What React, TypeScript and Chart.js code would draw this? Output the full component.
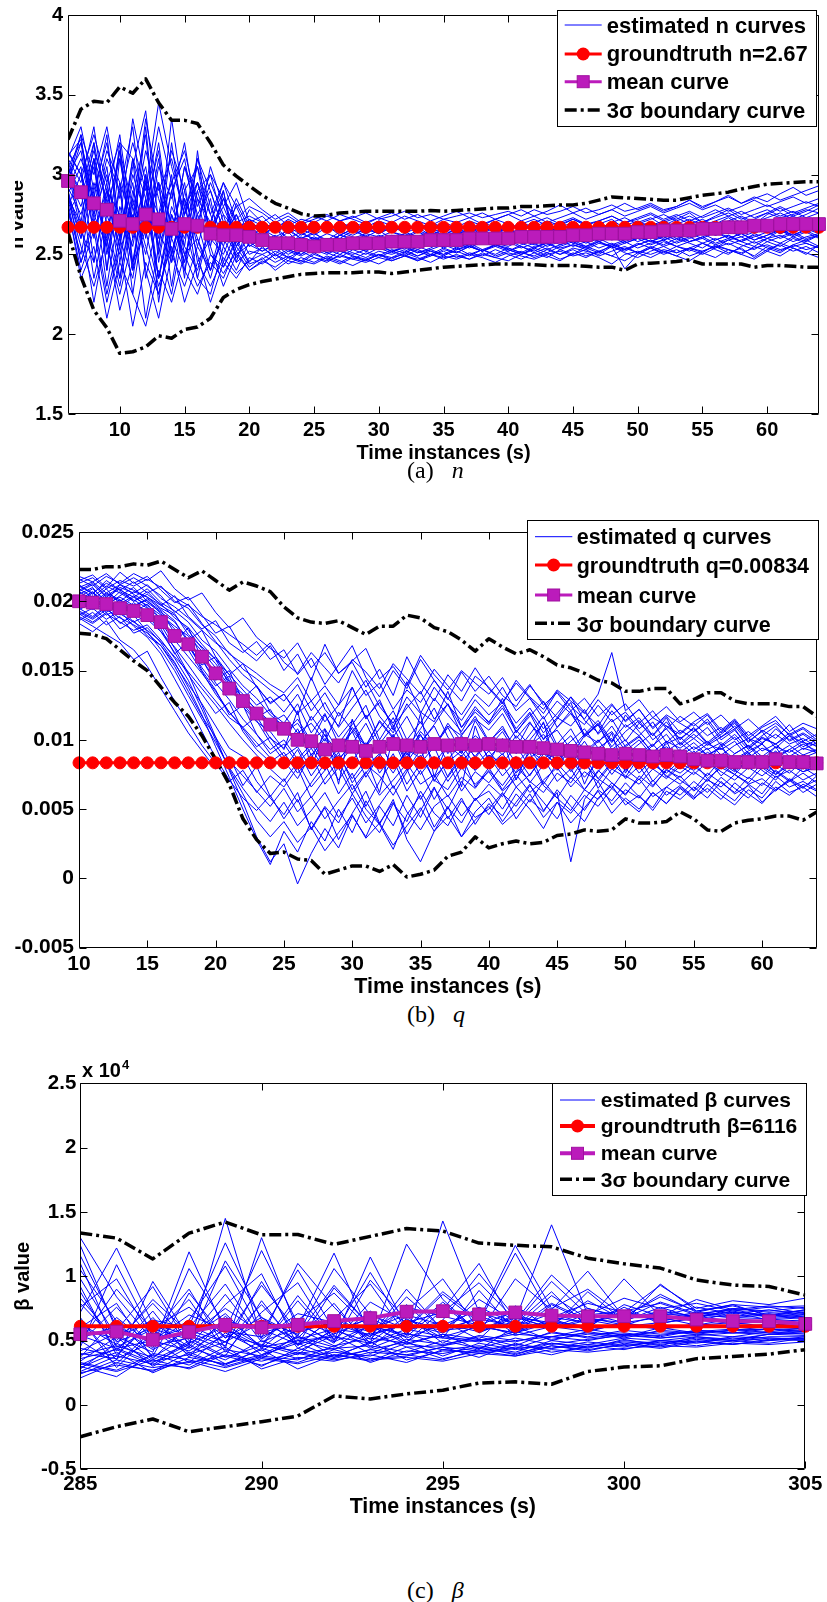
import React, { useEffect, useRef } from "react";
import { Chart, registerables } from "chart.js";

Chart.register(...registerables);

const FONT = "'Liberation Sans', Arial, Helvetica, sans-serif";
const SERIF = "'Liberation Serif', 'Times New Roman', serif";
const BLUE = "#0000ff";
const RED = "#ff0000";
const MAG = "#bb1bbb";
const MAG_EDGE = "#a010a0";
const BLACK = "#000000";
const DASH_DOT = [12, 4, 3, 4];

// ================= Panel (a): n =================
const timeA = [6,7,8,9,10,11,12,13,14,15,16,17,18,19,20,21,22,23,24,25,26,27,28,29,30,31,32,33,34,35,36,37,38,39,40,41,42,43,44,45,46,47,48,49,50,51,52,53,54,55,56,57,58,59,60,61,62,63,64];
const xTicksA = [10,15,20,25,30,35,40,45,50,55,60];
const xTickLabelsA = ["10","15","20","25","30","35","40","45","50","55","60"];
const yTicksA = [1.5,2,2.5,3,3.5,4];
const yTickLabelsA = ["1.5","2","2.5","3","3.5","4"];
const groundA = [
  2.67,2.67,2.67,2.67,2.67,2.67,2.67,2.67,2.67,2.67,
  2.67,2.67,2.67,2.67,2.67,2.67,2.67,2.67,2.67,2.67,
  2.67,2.67,2.67,2.67,2.67,2.67,2.67,2.67,2.67,2.67,
  2.67,2.67,2.67,2.67,2.67,2.67,2.67,2.67,2.67,2.67,
  2.67,2.67,2.67,2.67,2.67,2.67,2.67,2.67,2.67,2.67,
  2.67,2.67,2.67,2.67,2.67,2.67,2.67,2.67,2.67];
const meanA = [
  2.96,2.89,2.82,2.78,2.71,2.69,2.75,2.72,2.66,2.69,
  2.68,2.63,2.62,2.62,2.61,2.59,2.57,2.57,2.56,2.55,
  2.56,2.56,2.57,2.57,2.57,2.58,2.58,2.58,2.59,2.59,
  2.59,2.60,2.60,2.60,2.60,2.61,2.61,2.61,2.61,2.62,
  2.62,2.63,2.63,2.63,2.64,2.64,2.65,2.65,2.65,2.66,
  2.66,2.67,2.67,2.68,2.68,2.69,2.69,2.69,2.69];
const upperA = [
  3.22,3.41,3.46,3.45,3.55,3.51,3.60,3.45,3.34,3.34,
  3.32,3.20,3.06,2.99,2.93,2.87,2.82,2.79,2.755,2.74,
  2.745,2.76,2.765,2.77,2.77,2.77,2.77,2.77,2.775,2.77,
  2.775,2.78,2.785,2.79,2.79,2.80,2.80,2.805,2.81,2.81,
  2.82,2.84,2.86,2.855,2.85,2.845,2.84,2.84,2.855,2.87,
  2.88,2.89,2.91,2.925,2.94,2.945,2.95,2.955,2.955];
const lowerA = [
  2.64,2.36,2.15,2.04,1.88,1.89,1.92,1.99,1.975,2.03,
  2.045,2.10,2.23,2.28,2.31,2.33,2.345,2.36,2.375,2.38,
  2.385,2.385,2.385,2.39,2.39,2.38,2.39,2.40,2.41,2.42,
  2.425,2.43,2.435,2.44,2.44,2.44,2.435,2.43,2.43,2.43,
  2.425,2.42,2.42,2.40,2.44,2.445,2.45,2.455,2.465,2.44,
  2.44,2.44,2.44,2.42,2.43,2.43,2.425,2.42,2.42];
const curveA01 = [3.05,3.20,2.85,3.25,2.60,3.05,3.40,2.70,2.95,2.55,3.10,2.80,2.60,2.75,2.55,
  2.60,2.50,2.58,2.52,2.55,2.60,2.57,2.54,2.58,2.56,2.60,2.57,2.59,2.56,2.58,
  2.60,2.58,2.61,2.59,2.62,2.60,2.58,2.61,2.63,2.60,2.62,2.64,2.61,2.63,2.65,
  2.62,2.64,2.66,2.63,2.65,2.67,2.64,2.66,2.68,2.65,2.67,2.69,2.66,2.68];
const curveA02 = [2.90,2.60,3.10,2.40,2.95,2.25,2.80,3.15,2.50,2.85,2.35,2.70,2.90,2.55,2.70,
  2.62,2.68,2.55,2.63,2.60,2.58,2.62,2.60,2.63,2.61,2.64,2.62,2.60,2.63,2.61,
  2.63,2.65,2.62,2.64,2.66,2.63,2.65,2.67,2.64,2.66,2.68,2.65,2.63,2.66,2.68,
  2.70,2.67,2.69,2.72,2.68,2.71,2.74,2.70,2.72,2.76,2.73,2.75,2.78,2.76];
const curveA03 = [3.10,2.95,3.30,2.75,3.15,2.45,2.95,2.60,3.35,2.80,2.95,2.65,2.85,2.60,2.78,
  2.70,2.75,2.68,2.72,2.70,2.74,2.71,2.73,2.76,2.72,2.74,2.77,2.73,2.75,2.72,
  2.74,2.76,2.73,2.75,2.77,2.74,2.78,2.75,2.77,2.80,2.76,2.78,2.81,2.77,2.79,
  2.82,2.78,2.80,2.84,2.80,2.83,2.86,2.82,2.85,2.88,2.84,2.87,2.90,2.93];
const curveA04 = [2.80,2.35,2.55,2.10,2.45,2.25,2.05,2.40,2.20,2.50,2.30,2.45,2.35,2.55,2.42,
  2.48,2.40,2.46,2.44,2.48,2.46,2.49,2.47,2.45,2.48,2.46,2.49,2.47,2.50,2.48,
  2.49,2.47,2.50,2.48,2.51,2.49,2.47,2.50,2.52,2.49,2.51,2.48,2.44,2.50,2.52,
  2.50,2.53,2.51,2.54,2.52,2.55,2.53,2.51,2.54,2.56,2.53,2.55,2.57,2.54];
const curveA05 = [2.95,3.25,3.00,3.30,2.85,3.20,2.90,3.45,3.05,2.75,3.10,2.90,2.65,2.80,2.62,
  2.66,2.58,2.64,2.56,2.60,2.57,2.62,2.59,2.56,2.60,2.58,2.61,2.58,2.62,2.60,
  2.58,2.61,2.63,2.60,2.62,2.64,2.61,2.63,2.60,2.62,2.65,2.62,2.64,2.61,2.63,
  2.65,2.62,2.64,2.67,2.63,2.66,2.69,2.65,2.68,2.64,2.67,2.70,2.66,2.68];
const curveA06 = [2.85,2.70,2.20,2.65,2.30,2.75,2.10,2.55,2.25,2.70,2.35,2.25,2.55,2.40,2.58,
  2.52,2.56,2.50,2.54,2.51,2.55,2.52,2.50,2.53,2.55,2.52,2.54,2.51,2.53,2.56,
  2.53,2.55,2.52,2.56,2.54,2.51,2.55,2.57,2.54,2.56,2.53,2.57,2.55,2.58,2.54,
  2.57,2.59,2.55,2.58,2.60,2.56,2.59,2.61,2.57,2.60,2.62,2.58,2.61,2.63];
const curveA07 = [3.15,3.00,2.75,3.10,2.90,3.30,2.60,3.05,2.85,3.20,2.70,2.95,2.75,2.65,2.72,
  2.68,2.64,2.70,2.66,2.62,2.67,2.64,2.69,2.66,2.63,2.67,2.65,2.68,2.64,2.66,
  2.69,2.66,2.70,2.67,2.65,2.69,2.72,2.68,2.70,2.73,2.69,2.71,2.74,2.70,2.72,
  2.75,2.71,2.74,2.77,2.73,2.76,2.79,2.75,2.78,2.81,2.77,2.80,2.83,2.80];
const curveA08 = [2.78,2.50,2.90,2.30,2.80,2.55,3.00,2.20,2.75,2.45,2.85,2.50,2.42,2.60,2.45,
  2.55,2.47,2.52,2.49,2.53,2.50,2.54,2.51,2.48,2.52,2.50,2.53,2.49,2.52,2.50,
  2.52,2.49,2.53,2.50,2.54,2.51,2.49,2.53,2.50,2.54,2.52,2.50,2.55,2.41,2.50,
  2.54,2.51,2.55,2.53,2.50,2.54,2.57,2.53,2.49,2.55,2.52,2.56,2.53,2.55];
const curveA09 = [3.00,3.25,2.60,2.95,2.35,2.85,3.25,2.45,2.90,3.10,2.65,3.05,2.80,2.95,2.70,
  2.74,2.66,2.71,2.64,2.69,2.65,2.70,2.67,2.64,2.68,2.65,2.69,2.66,2.70,2.67,
  2.64,2.68,2.65,2.69,2.66,2.70,2.67,2.71,2.68,2.72,2.69,2.66,2.70,2.73,2.69,
  2.72,2.75,2.71,2.74,2.70,2.73,2.76,2.72,2.75,2.78,2.74,2.77,2.73,2.76];
const curveA10 = [2.92,2.75,3.05,2.55,3.20,2.40,2.70,2.95,2.30,2.80,2.50,2.20,2.45,2.35,2.48,
  2.44,2.50,2.46,2.52,2.48,2.45,2.50,2.47,2.51,2.48,2.52,2.49,2.53,2.50,2.54,
  2.51,2.55,2.52,2.56,2.53,2.50,2.54,2.57,2.53,2.56,2.54,2.58,2.55,2.52,2.56,
  2.59,2.55,2.58,2.61,2.57,2.60,2.56,2.59,2.62,2.58,2.61,2.64,2.60,2.62];
const curveA11 = [3.08,2.85,3.15,2.90,2.55,3.00,2.75,3.20,2.60,3.05,2.85,2.70,2.95,2.80,2.85,
  2.78,2.72,2.76,2.70,2.74,2.71,2.75,2.72,2.69,2.73,2.70,2.74,2.71,2.68,2.72,
  2.70,2.73,2.69,2.72,2.75,2.71,2.74,2.70,2.73,2.76,2.72,2.75,2.78,2.74,2.77,
  2.80,2.76,2.79,2.82,2.78,2.81,2.77,2.80,2.84,2.80,2.83,2.86,2.82,2.85];
const curveA12 = [2.82,2.45,2.70,2.25,2.60,2.95,2.40,2.10,2.50,2.30,2.55,2.40,2.60,2.45,2.52,
  2.50,2.54,2.48,2.52,2.56,2.53,2.50,2.55,2.52,2.49,2.53,2.51,2.55,2.52,2.49,
  2.53,2.56,2.52,2.55,2.58,2.54,2.57,2.53,2.56,2.59,2.55,2.58,2.54,2.57,2.60,
  2.56,2.59,2.62,2.58,2.61,2.57,2.60,2.63,2.59,2.62,2.65,2.61,2.64,2.60];
const curveA13 = [3.12,3.22,2.80,3.15,2.95,2.70,3.35,2.90,3.10,2.75,3.05,2.60,2.85,2.70,2.62,
  2.58,2.62,2.56,2.60,2.54,2.58,2.55,2.59,2.57,2.54,2.58,2.56,2.60,2.57,2.55,
  2.59,2.56,2.60,2.57,2.55,2.59,2.62,2.58,2.61,2.57,2.60,2.63,2.59,2.62,2.58,
  2.61,2.64,2.60,2.63,2.66,2.62,2.65,2.61,2.64,2.67,2.63,2.66,2.70,2.67];
const curveA14 = [2.88,3.05,2.45,2.90,2.60,2.35,2.85,2.55,3.00,2.40,2.75,2.55,2.30,2.50,2.40,
  2.46,2.42,2.48,2.45,2.50,2.47,2.44,2.48,2.46,2.50,2.47,2.51,2.48,2.45,2.49,
  2.47,2.50,2.48,2.45,2.49,2.52,2.48,2.51,2.47,2.50,2.53,2.49,2.52,2.55,2.51,
  2.54,2.50,2.53,2.49,2.52,2.55,2.51,2.54,2.48,2.53,2.56,2.52,2.55,2.51];
const curveA15 = [3.02,2.65,3.10,2.85,3.25,2.65,2.95,2.35,2.80,2.60,2.90,3.00,2.70,2.55,2.65,
  2.70,2.64,2.68,2.62,2.66,2.69,2.65,2.62,2.66,2.63,2.67,2.64,2.61,2.65,2.62,
  2.66,2.63,2.67,2.64,2.61,2.65,2.68,2.64,2.67,2.63,2.66,2.69,2.65,2.68,2.71,
  2.67,2.70,2.73,2.69,2.72,2.68,2.71,2.74,2.70,2.73,2.76,2.72,2.75,2.79];
const curveA16 = [2.76,2.90,2.35,2.75,2.50,2.85,2.55,2.25,2.65,2.95,2.45,2.60,2.50,2.70,2.55,
  2.60,2.55,2.59,2.53,2.57,2.54,2.58,2.55,2.52,2.56,2.54,2.57,2.55,2.58,2.54,
  2.57,2.54,2.58,2.55,2.52,2.56,2.59,2.55,2.58,2.61,2.57,2.60,2.56,2.59,2.62,
  2.58,2.61,2.57,2.60,2.63,2.59,2.62,2.58,2.61,2.64,2.60,2.63,2.59,2.62];
const curveA17 = [3.00,3.15,2.70,3.05,2.45,2.90,2.65,3.10,2.50,2.85,2.60,2.40,2.70,2.52,2.60,
  2.56,2.61,2.54,2.58,2.52,2.56,2.59,2.55,2.58,2.54,2.57,2.60,2.56,2.59,2.57,
  2.60,2.57,2.61,2.58,2.62,2.59,2.56,2.60,2.63,2.59,2.62,2.58,2.61,2.64,2.60,
  2.63,2.60,2.64,2.61,2.66,2.62,2.65,2.68,2.64,2.67,2.63,2.66,2.69,2.65];
const curveA18 = [2.92,3.10,2.85,2.60,3.15,2.80,3.05,2.55,3.20,2.65,2.95,2.75,2.55,2.82,2.66,
  2.62,2.67,2.60,2.64,2.59,2.63,2.60,2.65,2.61,2.58,2.62,2.60,2.64,2.61,2.63,
  2.61,2.64,2.60,2.63,2.66,2.62,2.65,2.61,2.64,2.67,2.63,2.66,2.62,2.65,2.68,
  2.64,2.67,2.70,2.66,2.69,2.65,2.68,2.71,2.67,2.70,2.73,2.69,2.72,2.70];
const curveA19 = [2.84,2.55,2.30,2.60,2.15,2.45,2.65,2.30,2.55,2.20,2.45,2.30,2.48,2.38,2.46,
  2.50,2.45,2.49,2.46,2.44,2.48,2.45,2.49,2.47,2.44,2.48,2.50,2.46,2.49,2.52,
  2.48,2.51,2.49,2.53,2.50,2.47,2.51,2.54,2.50,2.53,2.49,2.52,2.55,2.51,2.48,
  2.52,2.55,2.51,2.54,2.57,2.53,2.50,2.55,2.58,2.54,2.51,2.56,2.59,2.55];
const curveA20 = [3.14,3.00,3.25,2.95,3.20,3.10,2.85,3.30,2.95,3.15,2.80,3.00,2.85,2.72,2.80,
  2.76,2.70,2.74,2.69,2.72,2.75,2.71,2.74,2.70,2.73,2.76,2.72,2.75,2.71,2.74,
  2.77,2.73,2.76,2.72,2.75,2.78,2.74,2.77,2.81,2.76,2.79,2.75,2.78,2.82,2.78,
  2.81,2.77,2.80,2.84,2.79,2.83,2.87,2.82,2.86,2.83,2.88,2.92,2.87,2.90];
const curveA21 = [2.86,2.60,2.95,2.70,2.35,2.80,2.50,2.95,2.70,2.45,2.90,2.60,2.75,2.48,2.62,
  2.58,2.53,2.57,2.61,2.56,2.53,2.57,2.54,2.58,2.55,2.59,2.56,2.53,2.57,2.55,
  2.58,2.55,2.59,2.56,2.60,2.57,2.54,2.58,2.61,2.57,2.55,2.59,2.62,2.58,2.61,
  2.58,2.62,2.59,2.63,2.60,2.64,2.61,2.58,2.63,2.60,2.65,2.62,2.66,2.63];
const curveA22 = [2.98,2.80,3.10,2.50,2.90,2.40,3.00,2.65,2.45,2.90,2.55,2.85,2.45,2.65,2.50,
  2.54,2.49,2.53,2.50,2.55,2.51,2.48,2.53,2.50,2.54,2.51,2.55,2.52,2.49,2.53,
  2.51,2.55,2.52,2.56,2.53,2.50,2.54,2.51,2.55,2.58,2.54,2.51,2.56,2.53,2.57,
  2.54,2.58,2.55,2.52,2.57,2.54,2.59,2.56,2.53,2.58,2.55,2.60,2.57,2.54];
const curveA23 = [3.06,2.70,3.20,2.40,3.10,2.60,3.30,2.50,2.90,2.35,3.15,2.55,2.90,2.45,2.72,
  2.64,2.58,2.66,2.60,2.64,2.57,2.62,2.66,2.61,2.65,2.60,2.63,2.67,2.62,2.65,
  2.62,2.66,2.63,2.67,2.64,2.61,2.65,2.68,2.64,2.67,2.63,2.69,2.72,2.66,2.70,
  2.73,2.68,2.72,2.76,2.70,2.74,2.78,2.73,2.69,2.75,2.79,2.74,2.77,2.81];
const curveA24 = [2.80,3.00,2.65,2.90,2.75,2.45,2.85,2.35,2.75,2.55,2.40,2.70,2.42,2.58,2.44,
  2.47,2.52,2.48,2.46,2.51,2.47,2.52,2.49,2.46,2.50,2.48,2.52,2.49,2.53,2.50,
  2.54,2.50,2.53,2.49,2.52,2.55,2.51,2.48,2.53,2.50,2.55,2.52,2.49,2.54,2.51,
  2.55,2.52,2.49,2.54,2.51,2.56,2.53,2.50,2.55,2.52,2.57,2.54,2.50,2.56];
const curveA25 = [3.10,3.30,2.90,3.20,2.70,3.35,2.95,2.75,3.15,2.90,3.05,2.75,2.95,2.70,2.74,
  2.70,2.66,2.72,2.68,2.65,2.69,2.66,2.70,2.67,2.71,2.68,2.65,2.69,2.66,2.70,
  2.67,2.71,2.68,2.72,2.69,2.66,2.70,2.73,2.69,2.72,2.68,2.71,2.74,2.70,2.73,
  2.76,2.72,2.75,2.71,2.74,2.78,2.74,2.77,2.73,2.76,2.80,2.76,2.79,2.82];
const curveA26 = [2.90,2.45,2.75,2.55,2.25,2.60,2.80,2.35,2.70,2.50,2.60,2.35,2.65,2.50,2.56,
  2.52,2.57,2.53,2.50,2.55,2.51,2.54,2.58,2.53,2.56,2.52,2.55,2.51,2.54,2.58,
  2.54,2.57,2.53,2.56,2.59,2.55,2.52,2.56,2.59,2.55,2.58,2.54,2.57,2.53,2.56,
  2.59,2.56,2.60,2.57,2.54,2.59,2.62,2.58,2.55,2.60,2.57,2.61,2.58,2.62];
const curveA27 = [3.04,2.90,3.20,2.80,3.10,2.70,3.15,2.85,2.60,3.05,2.75,2.90,2.65,2.85,2.68,
  2.65,2.70,2.63,2.67,2.64,2.68,2.62,2.66,2.63,2.67,2.64,2.61,2.65,2.62,2.66,
  2.63,2.67,2.64,2.68,2.65,2.62,2.66,2.63,2.67,2.70,2.66,2.69,2.65,2.68,2.64,
  2.68,2.71,2.67,2.70,2.66,2.69,2.73,2.68,2.71,2.67,2.71,2.74,2.70,2.73];
const curveA28 = [2.78,2.40,2.65,2.20,2.55,2.05,2.45,2.25,2.60,2.40,2.25,2.50,2.38,2.52,2.40,
  2.45,2.50,2.44,2.48,2.45,2.49,2.46,2.43,2.47,2.50,2.46,2.49,2.46,2.50,2.47,
  2.50,2.47,2.51,2.48,2.46,2.50,2.53,2.49,2.46,2.51,2.48,2.52,2.49,2.46,2.51,
  2.48,2.52,2.49,2.46,2.51,2.48,2.53,2.50,2.47,2.52,2.49,2.54,2.51,2.48];
const curveA29 = [2.94,3.20,2.75,3.00,2.60,3.10,2.70,2.95,2.45,2.75,2.95,2.65,2.80,2.60,2.70,
  2.66,2.61,2.65,2.60,2.63,2.59,2.64,2.61,2.58,2.62,2.59,2.63,2.60,2.64,2.61,
  2.64,2.61,2.65,2.62,2.59,2.63,2.60,2.64,2.61,2.65,2.62,2.66,2.63,2.60,2.64,
  2.67,2.63,2.66,2.70,2.65,2.68,2.64,2.67,2.71,2.66,2.69,2.72,2.68,2.71];
const curveA30 = [2.88,2.65,2.45,2.85,2.55,3.10,2.35,2.75,2.95,2.50,2.70,2.40,2.62,2.75,2.58,
  2.62,2.56,2.60,2.57,2.61,2.58,2.55,2.59,2.62,2.57,2.60,2.57,2.61,2.58,2.55,
  2.59,2.56,2.60,2.63,2.58,2.61,2.57,2.60,2.56,2.59,2.62,2.58,2.61,2.57,2.60,
  2.63,2.59,2.62,2.58,2.61,2.64,2.60,2.63,2.59,2.62,2.66,2.62,2.65,2.61];
const curvesA = [curveA01,curveA02,curveA03,curveA04,curveA05,curveA06,curveA07,curveA08,
  curveA09,curveA10,curveA11,curveA12,curveA13,curveA14,curveA15,curveA16,curveA17,curveA18,
  curveA19,curveA20,curveA21,curveA22,curveA23,curveA24,curveA25,curveA26,curveA27,curveA28,
  curveA29,curveA30];

// ================= Panel (b): q =================
const timeB = [10,11,12,13,14,15,16,17,18,19,20,21,22,23,24,25,26,27,28,29,30,31,32,33,34,35,36,37,38,39,40,41,42,43,44,45,46,47,48,49,50,51,52,53,54,55,56,57,58,59,60,61,62,63,64];
const xTicksB = [10,15,20,25,30,35,40,45,50,55,60];
const xTickLabelsB = ["10","15","20","25","30","35","40","45","50","55","60"];
const yTicksB = [-0.005,0,0.005,0.01,0.015,0.02,0.025];
const yTickLabelsB = ["-0.005","0","0.005","0.01","0.015","0.02","0.025"];
const groundB = [
  0.00834,0.00834,0.00834,0.00834,0.00834,0.00834,0.00834,0.00834,0.00834,0.00834,
  0.00834,0.00834,0.00834,0.00834,0.00834,0.00834,0.00834,0.00834,0.00834,0.00834,
  0.00834,0.00834,0.00834,0.00834,0.00834,0.00834,0.00834,0.00834,0.00834,0.00834,
  0.00834,0.00834,0.00834,0.00834,0.00834,0.00834,0.00834,0.00834,0.00834,0.00834,
  0.00834,0.00834,0.00834,0.00834,0.00834,0.00834,0.00834,0.00834,0.00834,0.00834,
  0.00834,0.00834,0.00834,0.00834,0.00834];
const meanB = [
  0.0200,0.0199,0.0198,0.0195,0.0193,0.0190,0.0185,0.0175,0.0169,0.0160,
  0.0148,0.0137,0.0128,0.0119,0.0111,0.0108,0.0100,0.0099,0.0093,0.0096,
  0.0095,0.0092,0.0095,0.0097,0.0096,0.0095,0.0097,0.0096,0.0097,0.0096,
  0.0097,0.0096,0.0095,0.0095,0.0094,0.0093,0.0092,0.0091,0.0090,0.0089,
  0.0090,0.0089,0.0088,0.0089,0.0088,0.0086,0.0085,0.0085,0.0084,0.0084,
  0.0084,0.0086,0.0084,0.0084,0.0083];
const upperB = [
  0.0223,0.0223,0.0225,0.0225,0.0227,0.0226,0.0229,0.0223,0.0217,0.0222,
  0.0215,0.0208,0.0214,0.0211,0.0207,0.0196,0.0188,0.0185,0.0184,0.0186,
  0.0181,0.0176,0.0182,0.0182,0.0190,0.0188,0.0181,0.0178,0.0172,0.0164,
  0.0173,0.0167,0.0162,0.0165,0.0160,0.0154,0.0152,0.0148,0.0143,0.0141,
  0.0135,0.0135,0.0137,0.0137,0.0126,0.0129,0.0134,0.0134,0.0128,0.0126,
  0.0126,0.0126,0.0124,0.0124,0.0117];
const lowerB = [
  0.0177,0.0176,0.0173,0.0165,0.0157,0.0150,0.0138,0.0127,0.0117,0.0103,
  0.0086,0.0068,0.0043,0.0028,0.0018,0.0019,0.0014,0.0013,0.0003,0.0006,
  0.0009,0.0009,0.0005,0.0010,0.0001,0.0003,0.0006,0.0016,0.0019,0.0030,
  0.0022,0.0025,0.0027,0.0025,0.0026,0.0031,0.0032,0.0035,0.0034,0.0035,
  0.0043,0.0040,0.0040,0.0041,0.0048,0.0043,0.0035,0.0034,0.0040,0.0042,
  0.0043,0.0045,0.0045,0.0042,0.0048];
const curveB01 = [0.0205,0.0210,0.0198,0.0207,0.0201,0.0195,0.0188,0.0172,0.0160,0.0148,0.0135,0.0120,0.0108,0.0095,0.0102,
  0.0088,0.0095,0.0079,0.0092,0.0085,0.0099,0.0081,0.0090,0.0076,0.0093,0.0087,0.0101,0.0084,0.0092,0.0078,
  0.0089,0.0083,0.0096,0.0080,0.0091,0.0086,0.0094,0.0079,0.0088,0.0082,0.0092,0.0085,0.0090,0.0080,0.0087,
  0.0083,0.0091,0.0086,0.0080,0.0089,0.0084,0.0092,0.0081,0.0088,0.0085];
const curveB02 = [0.0212,0.0205,0.0215,0.0208,0.0214,0.0206,0.0211,0.0200,0.0195,0.0183,0.0175,0.0162,0.0155,0.0148,0.0140,
  0.0134,0.0145,0.0128,0.0139,0.0125,0.0150,0.0132,0.0141,0.0122,0.0136,0.0127,0.0143,0.0130,0.0118,0.0133,
  0.0124,0.0138,0.0121,0.0130,0.0115,0.0128,0.0119,0.0111,0.0125,0.0113,0.0120,0.0108,0.0116,0.0110,0.0104,
  0.0112,0.0103,0.0109,0.0100,0.0106,0.0098,0.0104,0.0097,0.0101,0.0095];
const curveB03 = [0.0193,0.0188,0.0196,0.0184,0.0190,0.0178,0.0165,0.0150,0.0132,0.0115,0.0098,0.0080,0.0065,0.0052,0.0041,
  0.0055,0.0038,0.0049,0.0062,0.0044,0.0058,0.0040,0.0053,0.0067,0.0048,0.0035,0.0052,0.0060,0.0045,0.0057,
  0.0063,0.0050,0.0066,0.0055,0.0070,0.0058,0.0049,0.0064,0.0057,0.0069,0.0061,0.0072,0.0059,0.0066,0.0074,
  0.0063,0.0071,0.0066,0.0075,0.0068,0.0072,0.0064,0.0070,0.0076,0.0069];
const curveB04 = [0.0200,0.0196,0.0203,0.0190,0.0199,0.0192,0.0185,0.0170,0.0181,0.0158,0.0143,0.0150,0.0128,0.0116,0.0122,
  0.0105,0.0112,0.0098,0.0118,0.0102,0.0114,0.0095,0.0108,0.0121,0.0100,0.0113,0.0096,0.0110,0.0103,0.0117,
  0.0099,0.0108,0.0094,0.0112,0.0101,0.0107,0.0093,0.0104,0.0098,0.0110,0.0095,0.0102,0.0091,0.0099,0.0094,
  0.0101,0.0093,0.0098,0.0090,0.0096,0.0088,0.0095,0.0091,0.0097,0.0092];
const curveB05 = [0.0188,0.0182,0.0176,0.0170,0.0158,0.0164,0.0145,0.0128,0.0112,0.0096,0.0083,0.0070,0.0078,0.0062,0.0074,
  0.0066,0.0080,0.0058,0.0072,0.0085,0.0064,0.0077,0.0060,0.0071,0.0083,0.0068,0.0075,0.0059,0.0073,0.0065,
  0.0078,0.0067,0.0081,0.0070,0.0062,0.0076,0.0069,0.0083,0.0072,0.0065,0.0079,0.0071,0.0084,0.0074,0.0068,
  0.0077,0.0070,0.0082,0.0075,0.0069,0.0080,0.0073,0.0078,0.0071,0.0076];
const curveB06 = [0.0207,0.0201,0.0209,0.0198,0.0204,0.0196,0.0183,0.0166,0.0148,0.0125,0.0102,0.0078,0.0055,0.0030,0.0012,
  0.0025,-0.0004,0.0018,0.0036,0.0022,0.0045,0.0030,0.0052,0.0038,0.0060,0.0044,0.0065,0.0050,0.0070,0.0056,
  0.0068,0.0059,0.0075,0.0062,0.0071,0.0080,0.0066,0.0077,0.0070,0.0083,0.0074,0.0068,0.0079,0.0072,0.0081,
  0.0075,0.0084,0.0077,0.0071,0.0080,0.0074,0.0082,0.0076,0.0085,0.0079];
const curveB07 = [0.0215,0.0219,0.0210,0.0221,0.0213,0.0218,0.0208,0.0199,0.0203,0.0190,0.0177,0.0182,0.0165,0.0157,0.0168,
  0.0150,0.0162,0.0143,0.0169,0.0148,0.0156,0.0138,0.0151,0.0132,0.0160,0.0141,0.0128,0.0147,0.0135,0.0152,
  0.0137,0.0126,0.0143,0.0131,0.0122,0.0136,0.0128,0.0119,0.0133,0.0163,0.0121,0.0129,0.0116,0.0124,0.0113,
  0.0120,0.0111,0.0118,0.0108,0.0115,0.0106,0.0112,0.0104,0.0109,0.0102];
const curveB08 = [0.0197,0.0202,0.0193,0.0199,0.0189,0.0194,0.0180,0.0162,0.0171,0.0150,0.0136,0.0118,0.0125,0.0104,0.0090,
  0.0097,0.0083,0.0094,0.0078,0.0089,0.0072,0.0086,0.0098,0.0080,0.0091,0.0075,0.0088,0.0070,0.0084,0.0095,
  0.0081,0.0090,0.0076,0.0087,0.0094,0.0079,0.0086,0.0073,0.0084,0.0091,0.0078,0.0087,0.0082,0.0076,0.0085,
  0.0080,0.0088,0.0083,0.0077,0.0086,0.0081,0.0075,0.0084,0.0079,0.0082];
const curveB09 = [0.0203,0.0209,0.0200,0.0212,0.0205,0.0199,0.0192,0.0185,0.0172,0.0179,0.0160,0.0147,0.0155,0.0138,0.0127,
  0.0133,0.0118,0.0145,0.0122,0.0110,0.0138,0.0115,0.0129,0.0107,0.0142,0.0120,0.0113,0.0135,0.0109,0.0124,
  0.0112,0.0130,0.0105,0.0119,0.0100,0.0115,0.0127,0.0103,0.0112,0.0098,0.0118,0.0106,0.0095,0.0110,0.0101,
  0.0108,0.0097,0.0104,0.0112,0.0099,0.0106,0.0094,0.0103,0.0098,0.0096];
const curveB10 = [0.0191,0.0185,0.0192,0.0180,0.0186,0.0175,0.0168,0.0155,0.0140,0.0126,0.0110,0.0094,0.0088,0.0070,0.0058,
  0.0046,0.0062,0.0035,0.0051,0.0028,0.0047,0.0063,0.0040,0.0055,0.0032,0.0049,0.0066,0.0043,0.0058,0.0039,
  0.0054,0.0045,0.0061,0.0050,0.0036,0.0055,0.0047,0.0060,0.0052,0.0065,0.0056,0.0048,0.0062,0.0054,0.0066,
  0.0058,0.0065,0.0057,0.0069,0.0061,0.0054,0.0066,0.0060,0.0068,0.0063];
const curveB11 = [0.0209,0.0203,0.0211,0.0206,0.0200,0.0207,0.0197,0.0191,0.0176,0.0167,0.0158,0.0140,0.0131,0.0122,0.0113,
  0.0104,0.0115,0.0099,0.0108,0.0092,0.0106,0.0118,0.0097,0.0110,0.0089,0.0103,0.0094,0.0112,0.0099,0.0088,
  0.0101,0.0093,0.0107,0.0096,0.0104,0.0090,0.0099,0.0108,0.0094,0.0101,0.0089,0.0097,0.0105,0.0092,0.0098,
  0.0090,0.0097,0.0093,0.0099,0.0087,0.0094,0.0090,0.0096,0.0089,0.0093];
const curveB12 = [0.0199,0.0194,0.0201,0.0196,0.0203,0.0197,0.0190,0.0182,0.0175,0.0164,0.0152,0.0139,0.0126,0.0114,0.0098,
  0.0085,0.0072,0.0090,0.0068,0.0080,0.0061,0.0076,0.0088,0.0065,0.0079,0.0057,0.0073,0.0084,0.0063,0.0077,
  0.0069,0.0082,0.0066,0.0075,0.0087,0.0070,0.0079,0.0064,0.0077,0.0089,0.0072,0.0081,0.0067,0.0078,0.0073,
  0.0081,0.0074,0.0086,0.0078,0.0072,0.0083,0.0077,0.0070,0.0080,0.0074];
const curveB13 = [0.0210,0.0214,0.0206,0.0212,0.0208,0.0203,0.0197,0.0204,0.0189,0.0180,0.0186,0.0170,0.0163,0.0171,0.0158,
  0.0165,0.0147,0.0159,0.0140,0.0154,0.0168,0.0145,0.0131,0.0150,0.0137,0.0158,0.0143,0.0129,0.0149,0.0135,
  0.0146,0.0132,0.0124,0.0139,0.0127,0.0116,0.0131,0.0120,0.0110,0.0125,0.0114,0.0122,0.0108,0.0117,0.0105,
  0.0113,0.0119,0.0107,0.0115,0.0103,0.0110,0.0117,0.0106,0.0112,0.0108];
const curveB14 = [0.0194,0.0199,0.0190,0.0195,0.0185,0.0179,0.0171,0.0160,0.0149,0.0137,0.0125,0.0112,0.0100,0.0089,0.0079,
  0.0070,0.0084,0.0066,0.0078,0.0091,0.0069,0.0082,0.0074,0.0060,0.0077,0.0089,0.0071,0.0064,0.0080,0.0068,
  0.0077,0.0063,0.0072,0.0085,0.0067,0.0058,0.0073,0.0064,0.0078,0.0069,0.0060,0.0074,0.0066,0.0079,0.0071,
  0.0064,0.0076,0.0069,0.0062,0.0073,0.0067,0.0078,0.0071,0.0065,0.0074];
const curveB15 = [0.0201,0.0207,0.0197,0.0204,0.0210,0.0200,0.0193,0.0177,0.0168,0.0154,0.0160,0.0143,0.0130,0.0139,0.0120,
  0.0112,0.0126,0.0105,0.0119,0.0097,0.0111,0.0125,0.0100,0.0116,0.0094,0.0108,0.0123,0.0102,0.0090,0.0114,
  0.0098,0.0110,0.0091,0.0104,0.0117,0.0096,0.0088,0.0103,0.0111,0.0093,0.0100,0.0087,0.0096,0.0104,0.0091,
  0.0098,0.0089,0.0095,0.0102,0.0090,0.0097,0.0086,0.0093,0.0099,0.0090];
const curveB16 = [0.0186,0.0192,0.0183,0.0189,0.0177,0.0181,0.0170,0.0156,0.0138,0.0118,0.0095,0.0073,0.0050,0.0028,0.0010,
  0.0034,0.0019,0.0041,0.0027,0.0050,0.0033,0.0056,0.0039,0.0021,0.0046,0.0060,0.0037,0.0052,0.0030,0.0048,
  0.0058,0.0041,0.0055,0.0068,0.0049,0.0062,0.0012,0.0057,0.0070,0.0053,0.0064,0.0058,0.0071,0.0060,0.0067,
  0.0059,0.0072,0.0063,0.0056,0.0068,0.0061,0.0074,0.0066,0.0070,0.0064];
const curveB17 = [0.0216,0.0211,0.0218,0.0213,0.0220,0.0215,0.0222,0.0209,0.0201,0.0206,0.0192,0.0181,0.0188,0.0174,0.0166,
  0.0159,0.0170,0.0152,0.0163,0.0148,0.0157,0.0166,0.0144,0.0153,0.0139,0.0161,0.0147,0.0136,0.0150,0.0141,
  0.0133,0.0145,0.0128,0.0140,0.0125,0.0134,0.0121,0.0130,0.0117,0.0126,0.0113,0.0122,0.0109,0.0118,0.0112,
  0.0106,0.0115,0.0102,0.0110,0.0098,0.0107,0.0101,0.0111,0.0099,0.0104];
const curveB18 = [0.0195,0.0189,0.0197,0.0191,0.0185,0.0190,0.0178,0.0163,0.0147,0.0133,0.0119,0.0127,0.0106,0.0093,0.0084,
  0.0091,0.0076,0.0087,0.0104,0.0082,0.0095,0.0073,0.0089,0.0101,0.0078,0.0093,0.0070,0.0086,0.0097,0.0081,
  0.0092,0.0079,0.0088,0.0074,0.0090,0.0083,0.0096,0.0080,0.0089,0.0075,0.0087,0.0093,0.0079,0.0086,0.0090,
  0.0082,0.0088,0.0079,0.0085,0.0091,0.0080,0.0087,0.0083,0.0089,0.0084];
const curveB19 = [0.0204,0.0199,0.0206,0.0201,0.0196,0.0202,0.0194,0.0186,0.0170,0.0158,0.0141,0.0129,0.0115,0.0104,0.0093,
  0.0100,0.0086,0.0097,0.0082,0.0094,0.0106,0.0085,0.0099,0.0079,0.0092,0.0104,0.0083,0.0096,0.0088,0.0101,
  0.0087,0.0098,0.0083,0.0093,0.0080,0.0095,0.0086,0.0099,0.0084,0.0092,0.0081,0.0090,0.0097,0.0085,0.0093,
  0.0087,0.0094,0.0082,0.0090,0.0096,0.0085,0.0091,0.0083,0.0089,0.0086];
const curveB20 = [0.0208,0.0213,0.0204,0.0210,0.0206,0.0212,0.0202,0.0196,0.0188,0.0179,0.0170,0.0163,0.0151,0.0144,0.0136,
  0.0128,0.0140,0.0121,0.0134,0.0117,0.0130,0.0143,0.0124,0.0112,0.0131,0.0119,0.0138,0.0125,0.0114,0.0129,
  0.0118,0.0127,0.0112,0.0123,0.0108,0.0119,0.0131,0.0114,0.0105,0.0121,0.0109,0.0116,0.0103,0.0113,0.0100,
  0.0109,0.0098,0.0106,0.0114,0.0101,0.0097,0.0108,0.0100,0.0105,0.0099];
const curveB21 = [0.0190,0.0195,0.0187,0.0193,0.0182,0.0174,0.0162,0.0144,0.0126,0.0106,0.0087,0.0071,0.0058,0.0049,0.0060,
  0.0043,0.0057,0.0036,0.0052,0.0040,0.0061,0.0045,0.0033,0.0054,0.0041,0.0063,0.0047,0.0038,0.0056,0.0044,
  0.0050,0.0062,0.0043,0.0057,0.0048,0.0064,0.0052,0.0041,0.0058,0.0067,0.0053,0.0060,0.0049,0.0063,0.0057,
  0.0066,0.0058,0.0070,0.0061,0.0067,0.0055,0.0064,0.0071,0.0062,0.0068];
const curveB22 = [0.0211,0.0206,0.0213,0.0208,0.0203,0.0209,0.0199,0.0193,0.0185,0.0172,0.0164,0.0151,0.0139,0.0130,0.0118,
  0.0110,0.0098,0.0117,0.0103,0.0091,0.0109,0.0096,0.0113,0.0101,0.0087,0.0106,0.0095,0.0109,0.0091,0.0103,
  0.0095,0.0106,0.0090,0.0100,0.0112,0.0094,0.0103,0.0089,0.0099,0.0106,0.0092,0.0100,0.0088,0.0097,0.0102,
  0.0093,0.0099,0.0089,0.0096,0.0101,0.0092,0.0097,0.0088,0.0094,0.0091];
const curveB23 = [0.0198,0.0204,0.0195,0.0201,0.0192,0.0198,0.0187,0.0175,0.0168,0.0152,0.0139,0.0146,0.0124,0.0113,0.0106,
  0.0093,0.0121,0.0079,0.0108,0.0068,0.0115,0.0087,0.0062,0.0103,0.0082,0.0119,0.0073,0.0098,0.0066,0.0110,
  0.0084,0.0101,0.0071,0.0094,0.0113,0.0078,0.0097,0.0068,0.0089,0.0105,0.0076,0.0093,0.0082,0.0099,0.0079,
  0.0092,0.0083,0.0097,0.0078,0.0090,0.0085,0.0095,0.0080,0.0088,0.0084];
const curveB24 = [0.0189,0.0184,0.0191,0.0185,0.0179,0.0183,0.0172,0.0159,0.0143,0.0122,0.0100,0.0079,0.0061,0.0042,0.0030,
  0.0041,0.0026,0.0037,0.0020,0.0033,0.0046,0.0029,0.0040,0.0024,0.0038,0.0051,0.0034,0.0045,0.0030,0.0042,
  0.0052,0.0039,0.0048,0.0061,0.0044,0.0055,0.0040,0.0051,0.0063,0.0047,0.0058,0.0050,0.0062,0.0054,0.0065,
  0.0057,0.0068,0.0060,0.0053,0.0064,0.0058,0.0070,0.0062,0.0066,0.0059];
const curveB25 = [0.0202,0.0197,0.0205,0.0200,0.0207,0.0203,0.0195,0.0190,0.0179,0.0166,0.0155,0.0142,0.0133,0.0121,0.0112,
  0.0118,0.0105,0.0112,0.0099,0.0120,0.0107,0.0095,0.0114,0.0102,0.0117,0.0098,0.0111,0.0126,0.0104,0.0115,
  0.0107,0.0119,0.0101,0.0113,0.0097,0.0109,0.0121,0.0102,0.0111,0.0095,0.0106,0.0114,0.0100,0.0108,0.0096,
  0.0104,0.0096,0.0102,0.0108,0.0094,0.0101,0.0097,0.0103,0.0093,0.0098];
const curveB26 = [0.0184,0.0178,0.0186,0.0172,0.0165,0.0153,0.0137,0.0121,0.0105,0.0092,0.0079,0.0088,0.0067,0.0081,0.0059,
  0.0072,0.0055,0.0069,0.0083,0.0061,0.0076,0.0052,0.0070,0.0086,0.0063,0.0078,0.0057,0.0074,0.0089,0.0066,
  0.0080,0.0064,0.0077,0.0091,0.0068,0.0083,0.0072,0.0087,0.0065,0.0079,0.0073,0.0088,0.0070,0.0081,0.0076,
  0.0084,0.0072,0.0080,0.0075,0.0086,0.0078,0.0071,0.0082,0.0077,0.0080];
const curveB27 = [0.0213,0.0217,0.0209,0.0215,0.0211,0.0216,0.0210,0.0203,0.0197,0.0189,0.0183,0.0176,0.0169,0.0161,0.0170,
  0.0156,0.0148,0.0163,0.0152,0.0141,0.0158,0.0149,0.0137,0.0155,0.0144,0.0133,0.0151,0.0139,0.0128,0.0146,
  0.0138,0.0127,0.0141,0.0130,0.0119,0.0135,0.0124,0.0115,0.0129,0.0118,0.0126,0.0112,0.0121,0.0108,0.0117,
  0.0110,0.0118,0.0105,0.0113,0.0101,0.0109,0.0114,0.0103,0.0108,0.0100];
const curveB28 = [0.0196,0.0200,0.0192,0.0198,0.0193,0.0187,0.0178,0.0167,0.0154,0.0140,0.0128,0.0116,0.0109,0.0098,0.0087,
  0.0079,0.0093,0.0074,0.0088,0.0071,0.0085,0.0098,0.0076,0.0090,0.0068,0.0083,0.0095,0.0073,0.0087,0.0078,
  0.0088,0.0074,0.0085,0.0069,0.0082,0.0093,0.0077,0.0088,0.0072,0.0084,0.0090,0.0076,0.0086,0.0073,0.0083,
  0.0078,0.0086,0.0074,0.0083,0.0079,0.0088,0.0075,0.0082,0.0077,0.0081];
const curveB29 = [0.0207,0.0212,0.0203,0.0209,0.0200,0.0205,0.0198,0.0188,0.0181,0.0169,0.0158,0.0147,0.0136,0.0125,0.0131,
  0.0120,0.0133,0.0114,0.0127,0.0109,0.0123,0.0136,0.0117,0.0105,0.0126,0.0112,0.0130,0.0118,0.0106,0.0122,
  0.0113,0.0125,0.0108,0.0120,0.0105,0.0116,0.0110,0.0122,0.0104,0.0115,0.0099,0.0112,0.0103,0.0116,0.0097,
  0.0106,0.0113,0.0100,0.0107,0.0095,0.0103,0.0110,0.0099,0.0104,0.0097];
const curveB30 = [0.0192,0.0187,0.0194,0.0188,0.0183,0.0177,0.0168,0.0153,0.0135,0.0117,0.0102,0.0085,0.0074,0.0063,0.0052,
  0.0065,0.0048,0.0059,0.0043,0.0056,0.0068,0.0050,0.0039,0.0057,0.0028,0.0012,0.0034,0.0051,0.0040,0.0058,
  0.0046,0.0061,0.0052,0.0067,0.0055,0.0043,0.0060,0.0049,0.0064,0.0056,0.0069,0.0059,0.0051,0.0066,0.0060,
  0.0070,0.0062,0.0073,0.0065,0.0058,0.0069,0.0063,0.0072,0.0066,0.0071];
const curveB31 = [0.0200,0.0206,0.0198,0.0203,0.0197,0.0201,0.0191,0.0180,0.0165,0.0149,0.0133,0.0120,0.0109,0.0117,0.0101,
  0.0094,0.0108,0.0089,0.0101,0.0086,0.0097,0.0112,0.0092,0.0104,0.0084,0.0098,0.0110,0.0090,0.0103,0.0087,
  0.0099,0.0089,0.0103,0.0092,0.0085,0.0097,0.0108,0.0091,0.0100,0.0087,0.0096,0.0103,0.0090,0.0095,0.0088,
  0.0095,0.0089,0.0094,0.0086,0.0092,0.0097,0.0088,0.0093,0.0087,0.0091];
const curveB32 = [0.0218,0.0214,0.0220,0.0212,0.0217,0.0211,0.0204,0.0192,0.0198,0.0184,0.0171,0.0158,0.0147,0.0139,0.0126,
  0.0133,0.0119,0.0128,0.0113,0.0125,0.0138,0.0116,0.0127,0.0110,0.0123,0.0135,0.0115,0.0126,0.0109,0.0120,
  0.0111,0.0123,0.0106,0.0117,0.0128,0.0109,0.0119,0.0104,0.0114,0.0099,0.0111,0.0103,0.0113,0.0098,0.0107,
  0.0101,0.0109,0.0096,0.0104,0.0093,0.0102,0.0097,0.0105,0.0095,0.0100];
const curvesB = [curveB01,curveB02,curveB03,curveB04,curveB05,curveB06,curveB07,curveB08,curveB09,
  curveB10,curveB11,curveB12,curveB13,curveB14,curveB15,curveB16,curveB17,curveB18,curveB19,curveB20,
  curveB21,curveB22,curveB23,curveB24,curveB25,curveB26,curveB27,curveB28,curveB29,curveB30,curveB31,curveB32];

// ================= Panel (c): beta =================
const timeC = [285,286,287,288,289,290,291,292,293,294,295,296,297,298,299,300,301,302,303,304,305];
const xTicksC = [285,290,295,300,305];
const xTickLabelsC = ["285","290","295","300","305"];
const yTicksC = [-5000,0,5000,10000,15000,20000,25000];
const yTickLabelsC = ["-0.5","0","0.5","1","1.5","2","2.5"];
const groundC = [6116,6116,6116,6116,6116,6116,6116,6116,6116,6116,6116,6116,6116,6116,6116,6116,6116,6116,6116,6116,6116];
const meanC = [5500,5700,5070,5680,6230,6020,6230,6520,6750,7250,7290,7040,7190,6950,6890,6900,6900,6640,6520,6510,6300];
const upperC = [13370,12970,11350,13350,14220,13220,13250,12480,13100,13710,13520,12580,12410,12290,11410,10970,10640,9710,9320,9210,8540];
const lowerC = [-2470,-1690,-1090,-2080,-1690,-1300,-860,700,470,860,1150,1700,1800,1610,2600,2950,3040,3600,3770,3950,4300];
const curveC01 = [3200,2600,3500,2800,3900,3400,4100,3600,4300,3900,4500,4200,4700,4400,4900,4600,5000,4800,5200,5000,5300];
const curveC02 = [5200,6100,4300,5800,4900,6400,5100,5900,5500,6300,5800,6100,5600,6400,6000,6200,5900,6300,6100,6000,6200];
const curveC03 = [12400,5800,9200,4600,14500,5200,11000,7600,4800,12500,8200,5600,9800,7400,10400,6800,8600,7200,7800,6900,7400];
const curveC04 = [2100,3300,2600,4100,3000,3800,3500,4600,3300,4200,4000,4500,3900,4800,4400,5100,4600,5300,5000,5500,5400];
const curveC05 = [8800,4200,7300,3700,6900,4500,8100,4900,6200,5300,7700,5700,6500,6000,7100,6400,6800,6200,6700,6500,6600];
const curveC06 = [4500,10900,5400,8200,4100,7200,9500,5000,11500,6000,8800,6600,12400,7500,9000,6900,8400,7300,7700,7000,7400];
const curveC07 = [3600,4300,3100,5000,3700,4600,4200,5400,4000,5100,4700,5300,4600,5700,5200,5500,5400,5800,5600,5900,5700];
const curveC08 = [6800,2900,5600,9000,4400,13000,5800,6700,9400,5400,14300,7200,6300,9600,7000,8300,7500,7900,7300,7600,7100];
const curveC09 = [10500,6500,3800,8700,5200,6800,4700,9100,6100,4900,7400,11000,6000,7900,6600,9800,6900,7600,7100,7400,7000];
const curveC10 = [2800,4800,3400,3900,3100,4400,3600,4100,3800,4800,4300,4600,4100,5000,4700,5200,5000,5300,5100,5500,5600];
const curveC11 = [7600,9800,5100,6100,12600,6600,5500,10600,7000,5900,8600,6400,11800,6800,7900,7200,9300,7500,8100,7800,8300];
const curveC12 = [4000,3600,4900,3300,5600,4200,5900,4600,5200,4800,5500,5100,4900,5600,5300,5800,5500,5700,5900,5600,5800];
const curveC13 = [13000,8400,5000,7000,5800,12000,6300,4900,8000,6400,7200,9500,6600,14000,7000,7300,7900,7000,7500,7200,7300];
const curveC14 = [3000,2200,4000,3500,2900,3700,3300,4300,3600,3800,4500,3700,4800,4100,4500,4900,4700,5100,4900,5200,5100];
const curveC15 = [5800,5200,6600,6000,9400,5100,7100,6400,5700,7600,6900,6200,7300,6800,6400,7000,6700,7200,6900,7100,6800];
const curveC16 = [9200,3900,6400,4500,7800,10200,4600,6900,5300,9000,5800,8200,6500,10100,7500,6700,8000,7100,7400,6900,7100];
const curveC17 = [2500,3100,2700,3400,2600,3600,3200,3900,3500,3700,3400,4000,3800,4300,4100,4400,4600,4500,4800,4700,4900];
const curveC18 = [4800,7600,4400,11900,5700,5300,6600,8700,5900,7000,6200,7400,5500,7800,6400,7200,6600,7000,6800,6700,6900];
const curveC19 = [6300,4700,8200,5600,4600,9600,5200,7900,4500,6700,5200,8900,5800,6500,6100,7600,6300,6900,6500,6600,6400];
const curveC20 = [3400,5300,3000,4500,3500,5000,4000,4400,4600,4100,5000,4400,5200,4700,5100,5400,5200,5500,5300,5700,5500];
const curveC21 = [11000,4500,5900,5100,8600,4900,6000,11800,5400,6300,5600,6900,6000,8500,6700,6400,9400,7300,7800,7600,7700];
const curveC22 = [2600,3800,3200,2900,4200,3000,4400,3700,4900,3500,4200,4100,4500,4400,4700,4500,5000,4900,5300,5200,5100];
const curveC23 = [7200,12200,6300,5400,7500,5600,10500,5800,6700,7300,9800,5800,7000,6200,8100,6600,7300,6900,7200,7000,7200];
const curveC24 = [3900,4600,3700,5400,4300,3800,5000,4300,5600,4500,4600,5400,5000,5300,5600,5200,5800,5600,5800,5900,5700];
const curveC25 = [4200,5600,3500,4800,6100,3900,5300,4500,6200,4700,5500,4300,6100,5000,5700,5300,6000,5600,5800,6100,5900];
const curveC26 = [2900,4100,2500,3700,3200,4300,2800,3900,3400,4500,3600,4200,3800,4600,4200,4800,4500,5000,4700,5100,5000];
const curveC27 = [6600,3500,9600,5200,7100,4400,6700,5500,10300,5800,6500,5100,7700,5900,6800,6200,7000,6500,7200,6600,6800];
const curveC28 = [3700,6800,4600,5200,3800,8100,4400,5800,4900,6900,4800,6300,5400,6100,5700,6400,5900,6200,6000,6300,6100];
const curveC29 = [5000,3200,5800,3900,4900,3600,5400,3800,4800,5600,4600,5100,4400,5300,5000,5500,5200,5400,5600,5500,5700];
const curveC30 = [9800,5300,4100,10600,6200,4600,8500,5100,7300,4900,6600,10200,6800,6000,8800,6500,7600,6700,7500,7300,7600];
const curveC31 = [3300,2700,3900,3100,4500,2800,3700,3400,4100,3900,3500,4400,4000,4600,4300,4700,4400,4900,4700,5000,5200];
const curveC32 = [7900,4900,6000,7600,5200,9300,5700,6400,5300,8400,5900,6700,6100,7100,6300,7300,6500,7000,6800,7000,6700];
const curveC33 = [4400,3800,6800,4000,5400,4700,3900,6000,4400,5500,5200,4900,5700,5100,5500,5600,5300,5800,5600,5700,6000];
const curveC34 = [11600,6100,4800,6600,10800,5600,6400,4800,9700,6600,5900,7600,6300,8800,6000,7800,6900,8200,7400,7700,7500];
const curveC35 = [2400,3500,2900,3300,3800,3100,4000,3500,3900,3300,4300,4000,4400,3900,4600,4300,4900,4600,5000,4800,5200];
const curveC36 = [6000,7900,3600,6200,4900,7800,4700,5500,6800,5200,6300,5700,6900,5900,6600,6100,6400,6700,6300,6500,6300];
const curveC37 = [5400,4400,5000,4200,5900,4500,5000,5300,4800,5900,5300,5000,5500,5300,5900,5400,5700,5500,5800,5900,5900];
const curveC38 = [8300,5000,7900,4800,11200,6800,5400,9300,6100,5500,8000,5600,6800,6400,7500,6800,7100,6900,7300,6800,7000];
const curveC39 = [3100,4400,3300,4700,3200,3900,4800,3700,4300,4900,3800,4800,4300,4800,4500,5000,4800,5200,5000,5300,5300];
const curveC40 = [4900,9000,5800,4400,6500,5900,4700,6800,5100,7800,5300,6100,5600,6700,5800,6300,6000,6200,6400,6100,6500];
const curvesC = [curveC01,curveC02,curveC03,curveC04,curveC05,curveC06,curveC07,curveC08,curveC09,curveC10,curveC11,curveC12,
  curveC13,curveC14,curveC15,curveC16,curveC17,curveC18,curveC19,curveC20,curveC21,curveC22,curveC23,curveC24,
  curveC25,curveC26,curveC27,curveC28,curveC29,curveC30,curveC31,curveC32,curveC33,curveC34,curveC35,curveC36,
  curveC37,curveC38,curveC39,curveC40];

const legendLabelsA = ["estimated n curves", "groundtruth n=2.67", "mean curve", "3\u03c3 boundary curve"];
const legendLabelsB = ["estimated q curves", "groundtruth q=0.00834", "mean curve", "3\u03c3 boundary curve"];
const legendLabelsC = ["estimated \u03b2 curves", "groundtruth \u03b2=6116", "mean curve", "3\u03c3 boundary curve"];

type Legend = {
  box: [number, number, number, number];
  lineRows: number[];
  textRows: number[];
  lineX: [number, number];
  textX: number;
  size: number;
  labels: string[];
};

type Spec = {
  key: string;
  top: number;
  h: number;
  padding: { left: number; top: number; right: number; bottom: number };
  yWidth: number;
  xHeight: number;
  xs: number[];
  xMin: number; xMax: number; xTicks: number[]; xLabels: string[];
  yMin: number; yMax: number; yTicks: number[]; yLabels: string[];
  tickSize: number; xTickPad: number; yTickPad: number;
  titleSize: number; titlePad: number;
  ylabel?: { text: string; x: number; clipX?: number; size: number };
  exponent?: boolean;
  legend: Legend;
  lw: number;
  mean: number[]; ground: number[]; upper: number[]; lower: number[]; curves: number[][];
};

const specA: Spec = {
  key: "a", top: 0, h: 470,
  padding: { left: 0, top: 11, right: 8, bottom: 0 },
  yWidth: 68, xHeight: 56,
  xs: timeA, xMin: 6, xMax: 64, xTicks: xTicksA, xLabels: xTickLabelsA,
  yMin: 1.5, yMax: 4, yTicks: yTicksA, yLabels: yTickLabelsA,
  tickSize: 20, xTickPad: 4, yTickPad: 5, titleSize: 20, titlePad: 5,
  ylabel: { text: "n value", x: 23, clipX: 15, size: 20 },
  legend: { box: [556.7, 10, 816, 126], lineRows: [25, 54, 81.7, 110], textRows: [27, 55, 83.3, 111.7],
    lineX: [564.7, 601.7], textX: 606.7, size: 22, labels: legendLabelsA },
  lw: 3, mean: meanA, ground: groundA, upper: upperA, lower: lowerA, curves: curvesA,
};

const specB: Spec = {
  key: "b", top: 480, h: 520,
  padding: { left: 0, top: 52, right: 10.3, bottom: 0 },
  yWidth: 79, xHeight: 52.3,
  xs: timeB, xMin: 10, xMax: 64, xTicks: xTicksB, xLabels: xTickLabelsB,
  yMin: -0.005, yMax: 0.025, yTicks: yTicksB, yLabels: yTickLabelsB,
  tickSize: 21, xTickPad: 4, yTickPad: 5, titleSize: 21.5, titlePad: 0,
  legend: { box: [527.3, 40, 818, 159.3], lineRows: [56.7, 85, 115, 143.3], textRows: [57.7, 86.7, 116.7, 146],
    lineX: [535, 572.3], textX: 576.7, size: 21.5, labels: legendLabelsB },
  lw: 3, mean: meanB, ground: groundB, upper: upperB, lower: lowerB, curves: curvesB,
};

const specC: Spec = {
  key: "c", top: 1040, h: 500,
  padding: { left: 0, top: 43.3, right: 21.7, bottom: 0 },
  yWidth: 80.3, xHeight: 70.7,
  xs: timeC, xMin: 285, xMax: 305, xTicks: xTicksC, xLabels: xTickLabelsC,
  yMin: -5000, yMax: 25000, yTicks: yTicksC, yLabels: yTickLabelsC,
  tickSize: 20.5, xTickPad: 3, yTickPad: 4, titleSize: 21.4, titlePad: 20.5,
  ylabel: { text: "\u03b2 value", x: 29, size: 20 },
  exponent: true,
  legend: { box: [552.3, 43.3, 806, 155], lineRows: [60, 86, 113.3, 139.3], textRows: [61, 87.3, 114, 141.7],
    lineX: [560, 595], textX: 600.7, size: 21, labels: legendLabelsC },
  lw: 4, mean: meanC, ground: groundC, upper: upperC, lower: lowerC, curves: curvesC,
};

function makePlugin(s: Spec) {
  return {
    id: "matlabAxes_" + s.key,
    afterDraw(chart: any) {
      const ctx: CanvasRenderingContext2D = chart.ctx;
      const a = chart.chartArea;
      const xs = chart.scales.x;
      const ys = chart.scales.y;
      ctx.save();
      ctx.setLineDash([]);
      ctx.strokeStyle = "#000";
      ctx.lineWidth = 1;
      const L = Math.round(a.left) + 0.5;
      const R = Math.round(a.right) - 0.5;
      const T = Math.round(a.top) + 0.5;
      const B = Math.round(a.bottom) - 0.5;
      ctx.beginPath();
      ctx.rect(L, T, R - L, B - T);
      for (const v of s.xTicks) {
        const px = Math.round(xs.getPixelForValue(v)) + 0.5;
        ctx.moveTo(px, B); ctx.lineTo(px, B - 7);
        ctx.moveTo(px, T); ctx.lineTo(px, T + 7);
      }
      for (const v of s.yTicks) {
        const py = Math.round(ys.getPixelForValue(v)) + 0.5;
        ctx.moveTo(L, py); ctx.lineTo(L + 7, py);
        ctx.moveTo(R, py); ctx.lineTo(R - 7, py);
      }
      ctx.stroke();

      if (s.ylabel) {
        const yl = s.ylabel;
        ctx.save();
        if (yl.clipX != null) {
          ctx.beginPath();
          ctx.rect(yl.clipX, 0, 300, chart.height);
          ctx.clip();
        }
        ctx.translate(yl.x, (a.top + a.bottom) / 2);
        ctx.rotate(-Math.PI / 2);
        ctx.font = `bold ${yl.size}px ${FONT}`;
        ctx.fillStyle = "#000";
        ctx.textAlign = "center";
        ctx.textBaseline = "alphabetic";
        ctx.fillText(yl.text, 0, 0);
        ctx.restore();
      }

      if (s.exponent) {
        ctx.font = `bold 20px ${FONT}`;
        ctx.fillStyle = "#000";
        ctx.textAlign = "left";
        ctx.textBaseline = "alphabetic";
        const base = "x 10";
        ctx.fillText(base, 82, 37);
        const w = ctx.measureText(base).width;
        ctx.font = `bold 13px ${FONT}`;
        ctx.fillText("4", 82 + w + 1, 29);
      }

      const lg = s.legend;
      const [x0, y0, x1, y1] = lg.box;
      ctx.fillStyle = "#fff";
      ctx.fillRect(x0, y0, x1 - x0, y1 - y0);
      ctx.strokeStyle = "#000";
      ctx.lineWidth = 1;
      ctx.strokeRect(Math.round(x0) + 0.5, Math.round(y0) + 0.5, Math.round(x1 - x0), Math.round(y1 - y0));
      const [lx0, lx1] = lg.lineX;
      const mid = (lx0 + lx1) / 2;
      const seg = (y: number, color: string, w: number, dash: number[]) => {
        ctx.beginPath();
        ctx.setLineDash(dash);
        ctx.strokeStyle = color;
        ctx.lineWidth = w;
        ctx.moveTo(lx0, y);
        ctx.lineTo(lx1, y);
        ctx.stroke();
        ctx.setLineDash([]);
      };
      seg(lg.lineRows[0], BLUE, 1, []);
      seg(lg.lineRows[1], RED, s.lw, []);
      ctx.beginPath();
      ctx.fillStyle = RED;
      ctx.arc(mid, lg.lineRows[1], 6.5, 0, Math.PI * 2);
      ctx.fill();
      seg(lg.lineRows[2], MAG, s.lw, []);
      ctx.fillStyle = MAG;
      ctx.fillRect(mid - 6, lg.lineRows[2] - 6, 12, 12);
      ctx.strokeStyle = MAG_EDGE;
      ctx.lineWidth = 1;
      ctx.strokeRect(mid - 6, lg.lineRows[2] - 6, 12, 12);
      seg(lg.lineRows[3], BLACK, 3.5, DASH_DOT);

      ctx.font = `bold ${lg.size}px ${FONT}`;
      ctx.fillStyle = "#000";
      ctx.textAlign = "left";
      ctx.textBaseline = "middle";
      lg.labels.forEach((t, i) => ctx.fillText(t, lg.textX, lg.textRows[i]));
      ctx.restore();
    },
  };
}

function makeConfig(s: Spec) {
  const pts = (arr: number[]) => s.xs.map((x, i) => ({ x, y: arr[i] }));
  const datasets: any[] = [
    {
      data: pts(s.mean), borderColor: MAG, backgroundColor: MAG, borderWidth: s.lw,
      borderJoinStyle: "round", pointStyle: "rect", pointRadius: 9, pointBackgroundColor: MAG,
      pointBorderColor: MAG_EDGE, pointBorderWidth: 1, order: 0, clip: false,
    },
    {
      data: pts(s.ground), borderColor: RED, backgroundColor: RED, borderWidth: s.lw,
      pointStyle: "circle", pointRadius: 6, pointBackgroundColor: RED, pointBorderColor: RED,
      pointBorderWidth: 1, order: 1, clip: false,
    },
    {
      data: pts(s.upper), borderColor: BLACK, borderWidth: 3.5, borderDash: DASH_DOT,
      borderJoinStyle: "round", pointRadius: 0, order: 2,
    },
    {
      data: pts(s.lower), borderColor: BLACK, borderWidth: 3.5, borderDash: DASH_DOT,
      borderJoinStyle: "round", pointRadius: 0, order: 2,
    },
    ...s.curves.map((c) => ({
      data: pts(c), borderColor: BLUE, borderWidth: 1, pointRadius: 0, order: 3,
    })),
  ];
  const tickFont = { family: FONT, size: s.tickSize, weight: "bold" as const };
  return {
    type: "line" as const,
    data: { datasets },
    options: {
      animation: false as const,
      responsive: false,
      devicePixelRatio: 1,
      events: [] as any[],
      layout: { padding: s.padding, autoPadding: false },
      plugins: { legend: { display: false }, tooltip: { enabled: false }, title: { display: false } },
      scales: {
        x: {
          type: "linear" as const, min: s.xMin, max: s.xMax,
          grid: { display: false, drawTicks: false }, border: { display: false },
          ticks: {
            color: "#000", font: tickFont, padding: s.xTickPad, maxRotation: 0, minRotation: 0,
            autoSkip: false, callback: (_v: any, i: number) => s.xLabels[i],
          },
          afterBuildTicks: (sc: any) => { sc.ticks = s.xTicks.map((v) => ({ value: v })); },
          afterFit: (sc: any) => { sc.height = s.xHeight; },
          title: {
            display: true, text: "Time instances (s)", color: "#000",
            font: { family: FONT, size: s.titleSize, weight: "bold" as const },
            padding: { top: 0, bottom: s.titlePad },
          },
        },
        y: {
          type: "linear" as const, min: s.yMin, max: s.yMax,
          grid: { display: false, drawTicks: false }, border: { display: false },
          ticks: {
            color: "#000", font: { ...tickFont, lineHeight: 1 }, padding: s.yTickPad,
            autoSkip: false, callback: (_v: any, i: number) => s.yLabels[i],
          },
          afterBuildTicks: (sc: any) => { sc.ticks = s.yTicks.map((v) => ({ value: v })); },
          afterFit: (sc: any) => { sc.width = s.yWidth; },
        },
      },
    },
    plugins: [makePlugin(s)],
  };
}

function Panel({ spec }: { spec: Spec }) {
  const ref = useRef<HTMLCanvasElement | null>(null);
  useEffect(() => {
    if (!ref.current) return;
    const chart = new Chart(ref.current, makeConfig(spec) as any);
    return () => chart.destroy();
  }, [spec]);
  return (
    <canvas
      ref={ref}
      width={827}
      height={spec.h}
      style={{ position: "absolute", left: 0, top: spec.top, width: 827, height: spec.h }}
    />
  );
}

function Caption({ top, label, sym }: { top: number; label: string; sym: string }) {
  return (
    <div
      style={{
        position: "absolute", left: 407, top, font: `24px ${SERIF}`, lineHeight: "28px",
        color: "#000", whiteSpace: "pre",
      }}
    >
      {label}
      <span style={{ fontStyle: "italic", marginLeft: 18 }}>{sym}</span>
    </div>
  );
}

export default function App() {
  return (
    <div style={{ position: "absolute", left: 0, top: 0, width: 827, height: 1602, background: "#fff", overflow: "hidden" }}>
      <Panel spec={specA} />
      <Panel spec={specB} />
      <Panel spec={specC} />
      <Caption top={456} label="(a)" sym="n" />
      <Caption top={1000} label="(b)" sym="q" />
      <Caption top={1576} label="(c)" sym={"\u03b2"} />
    </div>
  );
}
